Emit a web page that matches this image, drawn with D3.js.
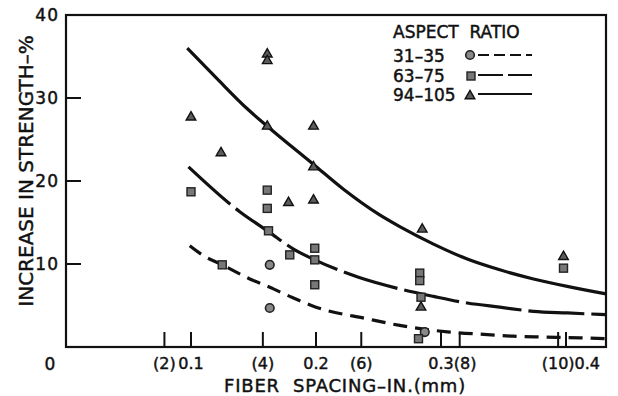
<!DOCTYPE html><meta charset="utf-8">
<title>Fiber spacing vs increase in strength</title>
<script src="https://cdn.jsdelivr.net/npm/d3@7"></script>
<style>
  html,body{margin:0;background:#fff}
  svg{display:block}
  text{font-family:"DejaVu Sans",sans-serif;fill:#111;stroke:#111;stroke-width:0.45;white-space:pre}
  .frame{fill:none;stroke:#111;stroke-width:2.2}
  .tick{stroke:#111;stroke-width:2}
  .curve{fill:none;stroke:#111;stroke-width:3.2}
  .tri{fill:#5c5c5c;stroke:#111;stroke-width:1.4}
  .sq{fill:#777;stroke:#222;stroke-width:1.4}
  .circ{fill:#888;stroke:#222;stroke-width:1.6}
</style>
<svg width="618" height="396"></svg>
<script>
// values: x = fiber spacing (in.), y = increase in strength (%)
const xTickValues = [2/25.4, 0.1, 4/25.4, 0.2, 6/25.4, 0.3, 8/25.4, 10/25.4, 0.4];
const xTickLabels = ['(2)','0.1','(4)','0.2','(6)','0.3','(8)','(10)','0.4'];
const yTickValues = [10, 20, 30];
const yTickLabels = ['10','20','30'];

const ratios = ['31–35','63–75','94–105'];

// points
const circles31 = [[0.163,9.9],[0.163,4.7],[0.287,1.8]];
const squares63 = [[0.1,18.7],[0.125,9.9],[0.161,18.9],[0.161,16.7],[0.162,14.0],
                   [0.179,11.1],[0.199,11.9],[0.199,10.5],[0.199,7.5],
                   [0.283,8.9],[0.283,8.0],[0.284,6.0],[0.282,1.0],[0.398,9.5]];
const triangles94 = [[0.1,27.8],[0.124,23.5],[0.161,35.4],[0.161,34.6],[0.161,26.7],
                     [0.178,17.5],[0.198,26.7],[0.198,21.8],[0.198,17.8],
                     [0.285,14.3],[0.284,4.9],[0.398,11.0]];

// fitted curves (traced)
const curve31 = [[0.099,12.2],[0.11,11.0],[0.125,9.9],[0.147,8.2],[0.163,7.2],[0.179,6.1],
                 [0.2,4.8],[0.241,3.4],[0.267,2.6],[0.307,1.8],[0.337,1.5],[0.358,1.3],
                 [0.382,1.2],[0.411,1.1],[0.432,1.0]];
const curve63 = [[0.098,21.7],[0.139,16.3],[0.162,13.9],[0.182,11.8],[0.199,10.5],[0.234,8.4],
                 [0.267,7.0],[0.294,6.1],[0.321,5.3],[0.347,4.8],[0.374,4.3],[0.401,4.1],[0.432,3.9]];
const curve94 = [[0.097,36.0],[0.121,32.3],[0.145,28.7],[0.161,26.6],[0.198,22.0],[0.222,19.0],
                 [0.25,16.0],[0.267,14.5],[0.294,12.4],[0.321,10.6],[0.347,9.3],[0.374,8.2],
                 [0.401,7.3],[0.432,6.4]];

const svg = d3.select('svg');
const x = d3.scaleLinear().domain([0,0.432]).range([66,606]);
const y = d3.scaleLinear().domain([0,40]).range([347,15]);

/* 1. frame + ticks */
svg.append('rect').attr('class','frame')
   .attr('x',x(0)).attr('y',y(40)).attr('width',x(0.432)-x(0)).attr('height',y(0)-y(40));

svg.selectAll('line.ytick').data(yTickValues).join('line').attr('class','tick ytick')
   .attr('x1',x(0)).attr('x2',x(0)+15).attr('y1',d=>y(d)).attr('y2',d=>y(d));
svg.selectAll('text.ylab').data(yTickValues.concat([40])).join('text').attr('class','ylab')
   .attr('x',59).attr('y',d=>y(d)).attr('dy','0.36em').attr('text-anchor','end')
   .attr('font-size',17).attr('letter-spacing',1).text((d,i)=>i<yTickLabels.length?yTickLabels[i]:'40');
svg.append('text').attr('x',50).attr('y',370).attr('text-anchor','middle').attr('font-size',17).text('0');

svg.selectAll('line.xtick').data(xTickValues).join('line').attr('class','tick xtick')
   .attr('x1',d=>x(d)).attr('x2',d=>x(d)).attr('y1',y(0)).attr('y2',y(0)-15);

// close ticks share one label run: "0.3(8)", "(10)0.4"
const ticks = xTickValues.map((v,i)=>({px:x(v),label:xTickLabels[i]})).sort((a,b)=>a.px-b.px);
const groups = [];
ticks.forEach(t=>{
  const g = groups[groups.length-1];
  if(g && t.px-g[g.length-1].px<20) g.push(t); else groups.push([t]);
});
groups.forEach(g=>{
  const t = svg.append('text').attr('y',369).attr('font-size',16);
  g.forEach(d=>t.append('tspan').text(d.label));
  const w0 = t.select('tspan').node().getComputedTextLength();
  t.attr('x',g[0].px-w0/2);
});

/* 2. titles */
svg.append('text').attr('x',345).attr('y',392).attr('text-anchor','middle')
   .attr('font-size',18).attr('letter-spacing',0.8).text('FIBER  SPACING–IN.(mm)');
svg.append('text').attr('transform','translate(33,171) rotate(-90)').attr('text-anchor','middle')
   .attr('font-size',20).text('INCREASE IN STRENGTH–%');

/* 3. curves */
const line = d3.line().x(d=>x(d[0])).y(d=>y(d[1])).curve(d3.curveMonotoneX);
const curveDefs = [[curve31,'14,8'],[curve63,'56,7'],[curve94,null]];
svg.selectAll('path.curve').data(curveDefs).join('path').attr('class','curve')
   .attr('d',d=>line(d[0])).attr('stroke-dasharray',d=>d[1]);

/* 4. points */
const tri = d3.symbol().type(d3.symbolTriangle).size(40);
svg.selectAll('circle.circ').data(circles31).join('circle').attr('class','circ')
   .attr('cx',d=>x(d[0])).attr('cy',d=>y(d[1])).attr('r',4.3);
svg.selectAll('rect.sq').data(squares63).join('rect').attr('class','sq')
   .attr('x',d=>x(d[0])-4).attr('y',d=>y(d[1])-4).attr('width',8).attr('height',8);
svg.selectAll('path.tri').data(triangles94).join('path').attr('class','tri')
   .attr('d',tri).attr('transform',d=>`translate(${x(d[0])},${y(d[1])+1})`);

/* 5. legend */
const lg = svg.append('g');
lg.append('text').attr('x',393).attr('y',38).attr('font-size',17).text('ASPECT  RATIO');
const rowY = [62,82,101];
const legDash = ['11,5','25,5',null];
ratios.forEach((r,i)=>{
  lg.append('text').attr('x',393).attr('y',rowY[i]).attr('font-size',17).text(r);
  lg.append('line').attr('x1',478).attr('x2',532).attr('y1',rowY[i]-7).attr('y2',rowY[i]-7)
    .attr('stroke','#111').attr('stroke-width',2.2).attr('stroke-dasharray',legDash[i]);
});
lg.append('circle').attr('class','circ').attr('cx',470).attr('cy',rowY[0]-7).attr('r',4.3);
lg.append('rect').attr('class','sq').attr('x',467).attr('y',rowY[1]-10).attr('width',8).attr('height',8);
lg.append('path').attr('class','tri').attr('d',tri).attr('transform',`translate(470,${rowY[2]-5})`);
</script>
